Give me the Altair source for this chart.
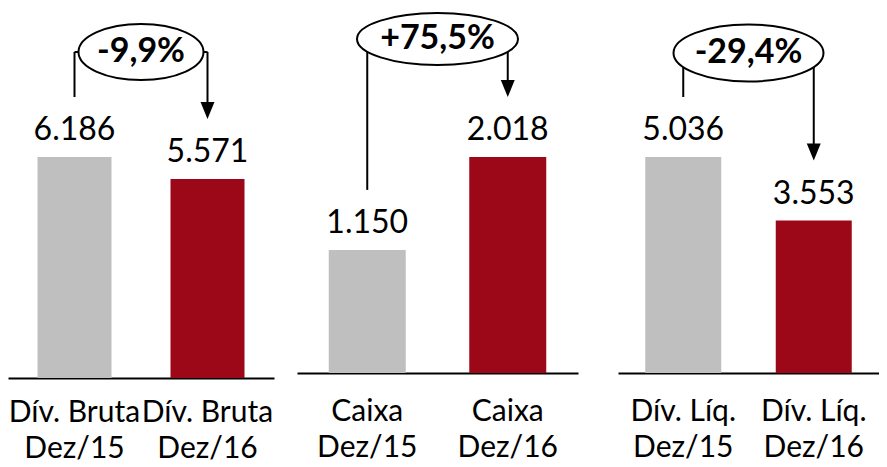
import altair as alt
import pandas as pd

# ---- data ----
groups = ["Dív. Bruta", "Caixa", "Dív. Líq."]
periods = ["Dez/15", "Dez/16"]
values = [[6186, 5571], [1150, 2018], [5036, 3553]]
value_labels = [["6.186", "5.571"], ["1.150", "2.018"], ["5.036", "3.553"]]
changes = ["-9,9%", "+75,5%", "-29,4%"]

# ---- styling / layout ----
GRAY = "#BFBFBF"
RED = "#9C0818"
FONT = "Lato"
widths = [266, 281, 261]
heights = [370, 365, 365]
bar_sizes = [74, 77, 76]
label_pad = [19, 23, 23]
TOP_PX = 149          # plot-y of the tallest bar in every panel
ell_cy = [44, 31, 45]
ell_w = [125, 161, 150]
ell_h = [56, 52, 57]
GAP = 60              # distance between bar top and connector end
ARROW_H = 17


def ellipse_path(w, h):
    r = h / w
    return f"M -1 0 A 1 {r:.4f} 0 1 1 1 0 A 1 {r:.4f} 0 1 1 -1 0 Z"


TRI = "M -0.82 -1 L 0.82 -1 L 0 1 Z"


def panel(i):
    cats = [f"{groups[i]}\n{p}" for p in periods]
    df = pd.DataFrame({"cat": cats, "period": periods,
                       "val": values[i], "lbl": value_labels[i]})
    W, H = widths[i], heights[i]
    dmax = max(values[i]) * H / (H - TOP_PX)
    x = alt.X("cat:N", sort=cats,
              scale=alt.Scale(paddingInner=0, paddingOuter=0),
              axis=alt.Axis(title=None, labelExpr="split(datum.label, '\\n')",
                            labelAngle=0, ticks=False, tickSize=0,
                            domainColor="black", domainWidth=2,
                            labelFont=FONT, labelFontSize=30, labelColor="black",
                            labelPadding=label_pad[i], labelLineHeight=36))
    y = alt.Y("val:Q", scale=alt.Scale(domain=[0, dmax], nice=False, zero=True),
              axis=None)
    base = alt.Chart(df).encode(x=x, y=y)
    bars = base.mark_bar(size=bar_sizes[i]).encode(
        color=alt.Color("period:N", scale=alt.Scale(domain=periods, range=[GRAY, RED]),
                        legend=None))
    text = base.mark_text(dy=-27, font=FONT, fontSize=32, baseline="middle",
                          color="black").encode(text="lbl:N")
    hlines = base.mark_rule(strokeWidth=2, color="black").encode(
        x2=alt.value(W / 2), y=alt.value(ell_cy[i]))
    vleft = base.transform_filter(alt.datum.period == periods[0]).mark_rule(
        yOffset=-GAP, strokeWidth=2, color="black").encode(y2=alt.value(ell_cy[i]))
    vright = base.transform_filter(alt.datum.period == periods[1]).mark_rule(
        yOffset=-GAP - 6, strokeWidth=2, color="black").encode(y2=alt.value(ell_cy[i]))
    arrow = base.transform_filter(alt.datum.period == periods[1]).mark_point(
        shape=TRI, size=ARROW_H ** 2, filled=True, color="black", opacity=1,
        strokeWidth=0, yOffset=-GAP - ARROW_H / 2)
    ann = alt.Chart(pd.DataFrame({"pct": [changes[i]]}))
    ellipse = ann.mark_point(shape=ellipse_path(ell_w[i], ell_h[i]), size=ell_w[i] ** 2,
                             filled=True, fill="white", stroke="black", strokeWidth=2,
                             opacity=1, fillOpacity=1, strokeOpacity=1).encode(
        x=alt.value(W / 2), y=alt.value(ell_cy[i]))
    pct = ann.mark_text(font=FONT, fontSize=34, fontWeight="bold", color="black",
                        baseline="middle").encode(
        x=alt.value(W / 2), y=alt.value(ell_cy[i]), text="pct:N")
    return alt.layer(bars, text, hlines, vleft, vright, arrow, ellipse, pct).properties(
        width=W, height=H)


p1, p2, p3 = panel(0), panel(1), panel(2)
chart = alt.hconcat(alt.hconcat(p1, p2, spacing=23), p3, spacing=40).resolve_scale(
    y="independent", x="independent", color="independent").properties(
    padding=0, background="white").configure_view(stroke=None)

chart.save("out.html", embed_options={"renderer": "svg", "actions": False})
